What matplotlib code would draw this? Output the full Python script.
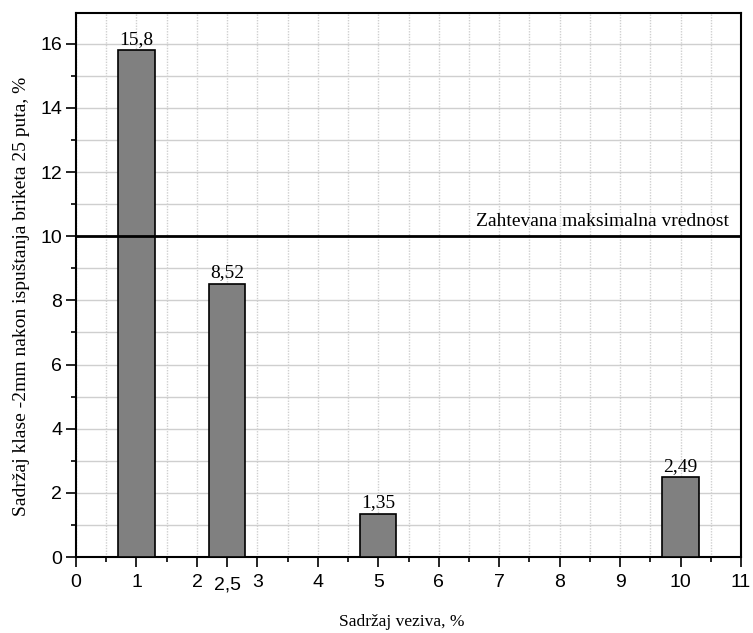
import matplotlib.pyplot as plt
from matplotlib.ticker import MultipleLocator

# Sadržaj veziva (%) i sadržaj klase -2mm (%)
vezivo = [1, 2.5, 5, 10]
sadrzaj = [15.8, 8.52, 1.35, 2.49]
oznake = ["15,8", "8,52", "1,35", "2,49"]
x_ticks = [0, 1, 2, 2.5, 3, 4, 5, 6, 7, 8, 9, 10, 11]
x_tick_labels = ["0", "1", "2", "2,5", "3", "4", "5", "6", "7", "8", "9", "10", "11"]
granica = 10

serif = "Liberation Serif"
sans = "Liberation Sans"

fig = plt.figure(figsize=(7.53, 6.33), dpi=100)
ax = fig.add_axes([0.101, 0.12, 0.883, 0.859])

ax.bar(vezivo, sadrzaj, width=0.6, color="#808080", edgecolor="black", linewidth=1.2, zorder=3)
for xv, yv, t in zip(vezivo, sadrzaj, oznake):
    ax.text(xv, yv + 0.08, t, ha="center", va="bottom", fontsize=14, family=serif, zorder=4)

ax.axhline(granica, color="black", linewidth=2, zorder=4)
ax.text(10.8, granica + 0.2, "Zahtevana maksimalna vrednost", ha="right", va="bottom",
        fontsize=14, family=serif, zorder=4)

ax.set_xlim(0, 11)
ax.set_ylim(0, 16.95)
ax.set_xticks(x_ticks)
ax.set_xticklabels(x_tick_labels, family=sans, fontsize=14)
ax.xaxis.set_minor_locator(MultipleLocator(0.5))
ax.yaxis.set_major_locator(MultipleLocator(2))
ax.yaxis.set_minor_locator(MultipleLocator(1))
for lbl in ax.get_yticklabels():
    lbl.set_family(sans)
    lbl.set_fontsize(14)

ax.tick_params(which="major", direction="out", length=7, width=1.2)
ax.tick_params(which="minor", direction="out", length=3.5, width=1.2)
ax.tick_params(axis="x", which="major", pad=5)
ax.tick_params(axis="y", which="major", pad=3)

# oznaka 2,5 ima kratku crticu i spuštena je malo niže
t25 = ax.xaxis.get_major_ticks()[x_ticks.index(2.5)]
t25.tick1line.set_markersize(3.5)
t25.set_pad(7)

# mreža: horizontalne pune, vertikalne isprekidane
ax.grid(True, axis="y", which="both", color="#cfcfcf", linewidth=1, zorder=0)
ax.grid(True, axis="x", which="both", color="#cfcfcf", linewidth=1, linestyle=(0, (1, 1)), zorder=0)
ax.set_axisbelow(True)

for s in ax.spines.values():
    s.set_linewidth(1.5)

ax.set_xlabel("Sadržaj veziva, %", family=serif, fontsize=12.5)
ax.xaxis.set_label_coords(0.49, -0.105)
ax.set_ylabel("Sadržaj klase -2mm nakon ispuštanja briketa 25 puta, %", family=serif, fontsize=14)
ax.yaxis.set_label_coords(-0.069, 0.48)

fig.savefig("out.png", dpi=100)
